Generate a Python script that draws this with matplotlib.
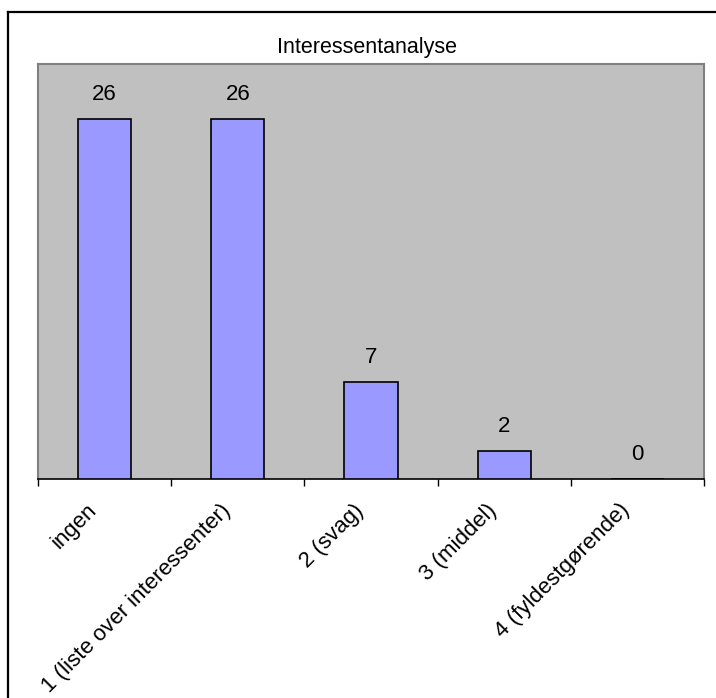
import matplotlib.pyplot as plt
from matplotlib.lines import Line2D
from matplotlib.transforms import ScaledTranslation

plt.rcParams['font.family'] = ['Liberation Sans', 'DejaVu Sans']

categories = ["ingen", "1 (liste over interessenter)", "2 (svag)",
              "3 (middel)", "4 (fyldestgørende)"]
counts = [26, 26, 7, 2, 0]
title = "Interessentanalyse"

W, H, DPI = 716, 698, 100
fig = plt.figure(figsize=(W / DPI, H / DPI), dpi=DPI)
fig.patch.set_facecolor('white')

# plot area in pixel coords: x 38..704, y 64..479
ax = fig.add_axes([38 / W, 1 - 479 / H, (704 - 38) / W, (479 - 64) / H])
ax.set_facecolor('#C0C0C0')

x = list(range(len(categories)))
ax.bar(x, counts, width=0.4, color='#9999FF', edgecolor='black', linewidth=1.2, zorder=3)

for xi, v in zip(x, counts):
    ax.annotate(str(v), (xi, v), xytext=(0, 14), textcoords='offset points',
                ha='center', va='baseline', fontsize=16, zorder=4)

ax.set_xlim(-0.5, len(categories) - 0.5)
ax.set_ylim(0, 30)
ax.set_yticks([])

# tick marks sit on category boundaries, labels at the centres
ax.set_xticks([i - 0.5 for i in range(len(categories) + 1)])
ax.set_xticklabels([])
ax.tick_params(axis='x', which='major', length=5, width=1, color='black', direction='out')
ax.set_xticks(x, minor=True)
ax.set_xticklabels(categories, minor=True, rotation=45, ha='right', va='top',
                   rotation_mode='anchor', fontsize=16)
ax.tick_params(axis='x', which='minor', length=0, pad=15)
shift = ScaledTranslation(-18 / DPI, 0, fig.dpi_scale_trans)
for lab in ax.get_xticklabels(minor=True):
    lab.set_transform(lab.get_transform() + shift)

for side in ('left', 'top', 'right'):
    ax.spines[side].set_color('#808080')
    ax.spines[side].set_linewidth(1.5)
ax.spines['bottom'].set_color('black')
ax.spines['bottom'].set_linewidth(1.2)

fig.text(367 / W, 1 - 53 / H, title, ha='center', va='baseline', fontsize=15.5)

# outer chart frame (left and top edges)
fig.add_artist(Line2D([8 / W, 8 / W], [0, 1 - 12 / H], color='black', linewidth=1.6,
                      transform=fig.transFigure))
fig.add_artist(Line2D([8 / W, 1], [1 - 12 / H, 1 - 12 / H], color='black', linewidth=1.6,
                      transform=fig.transFigure))

fig.savefig('out.png', dpi=DPI)
